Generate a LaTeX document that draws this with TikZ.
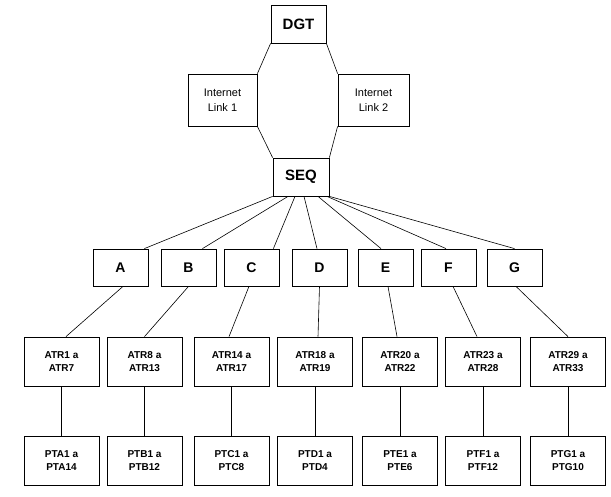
\documentclass[tikz,border=0pt]{standalone}
\usepackage{fontspec}
\setmainfont{Liberation Sans}
\usetikzlibrary{positioning}

\begin{document}
\begin{tikzpicture}[x=1pt, y=-1pt,
					top box/.style={draw, line width=0.8pt, inner sep=0pt, minimum width=55pt, minimum height=38pt, font=\fontsize{15}{17}\selectfont\bfseries},
					link box/.style={draw, line width=0.8pt, inner sep=0pt, minimum height=52pt, align=center, font=\fontsize{11}{15}\selectfont},
					zone box/.style={draw, line width=0.8pt, inner sep=0pt, minimum width=55pt, minimum height=37pt, font=\fontsize{14}{16}\selectfont\bfseries},
					leaf box/.style={draw, line width=0.8pt, inner sep=0pt, minimum width=75pt, minimum height=49pt, align=center, font=\fontsize{10}{13}\selectfont\bfseries},
					link/.style={draw, line width=0.6pt},
				]
					\useasboundingbox (0,0) rectangle (611,497);
					
					% top
					\node[top box] (dgt) at (298.5,24) {DGT};
					\node[link box, minimum width=69pt] (net1) at (222.5,100) {Internet\\Link 1};
					\node[link box, minimum width=71pt] (net2) at (373.5,100) {Internet\\Link 2};
					\node[top box, minimum width=56pt] (seq) at (301,177) {SEQ};
					
					\draw[link] (dgt.south west) -- (net1.north east);
					\draw[link] (net1.south east) -- (seq.north west);
					\draw[link] (dgt.south east) -- (net2.north west);
					\draw[link] (net2.south west) -- (seq.north east);
					
					% zones
					\node[zone box] (a) at (120.5,267.5) {A};
					\node[zone box] (b) at (188.5,267.5) {B};
					\node[zone box] (c) at (251.5,267.5) {C};
					\node[zone box] (d) at (319.5,267.5) {D};
					\node[zone box] (e) at (385.5,267.5) {E};
					\node[zone box] (f) at (448.5,267.5) {F};
					\node[zone box] (g) at (514.5,267.5) {G};
					
					\draw[link] (seq.south west) -- ([xshift=-4pt]a.north east);
					\draw[link] ([xshift=-13pt]seq.south) -- ([xshift=14pt]b.north);
					\draw[link] ([xshift=-6pt]seq.south) -- ([xshift=-6pt]c.north east);
					\draw[link] ([xshift=3pt]seq.south) -- ([xshift=-2.5pt]d.north);
					\draw[link] ([xshift=17pt]seq.south) -- ([xshift=-4.5pt]e.north);
					\draw[link] ([xshift=26pt]seq.south) -- ([xshift=-2.5pt]f.north);
					\draw[link] (seq.south east) -- (g.north);
					
					% ATR
					\node[leaf box] (atra) at (61.5,361.5) {ATR1 a\\ATR7};
					\node[leaf box] (atrb) at (144.5,361.5) {ATR8 a\\ATR13};
					\node[leaf box] (atrc) at (231.5,361.5) {ATR14 a\\ATR17};
					\node[leaf box] (atrd) at (315,361.5) {ATR18 a\\ATR19};
					\node[leaf box] (atre) at (400,361.5) {ATR20 a\\ATR22};
					\node[leaf box] (atrf) at (483,361.5) {ATR23 a\\ATR28};
					\node[leaf box] (atrg) at (568,361.5) {ATR29 a\\ATR33};
					
					\draw[link] ([xshift=2.5pt]a.south) -- ([xshift=4.5pt]atra.north);
					\draw[link] (b.south) -- (atrb.north);
					\draw[link] ([xshift=-2.5pt]c.south) -- ([xshift=-2.5pt]atrc.north);
					\draw[link] (d.south) -- ([xshift=3pt]atrd.north);
					\draw[link] ([xshift=2.5pt]e.south) -- ([xshift=-3pt]atre.north);
					\draw[link] ([xshift=4.5pt]f.south) -- ([xshift=-6pt]atrf.north);
					\draw[link] ([xshift=1.5pt]g.south) -- (atrg.north);
					
					% PT
					\node[leaf box] (pta) at (61.5,460.5) {PTA1 a\\PTA14};
					\node[leaf box] (ptb) at (144.5,460.5) {PTB1 a\\PTB12};
					\node[leaf box] (ptc) at (231.5,460.5) {PTC1 a\\PTC8};
					\node[leaf box] (ptd) at (315,460.5) {PTD1 a\\PTD4};
					\node[leaf box] (pte) at (400,460.5) {PTE1 a\\PTE6};
					\node[leaf box] (ptf) at (483,460.5) {PTF1 a\\PTF12};
					\node[leaf box] (ptg) at (568,460.5) {PTG1 a\\PTG10};
					
					\draw[link] (atra) -- (pta);
					\draw[link] (atrb) -- (ptb);
					\draw[link] (atrc) -- (ptc);
					\draw[link] (atrd) -- (ptd);
					\draw[link] (atre) -- (pte);
					\draw[link] (atrf) -- (ptf);
					\draw[link] (atrg) -- (ptg);
				\end{tikzpicture}
\end{document}
